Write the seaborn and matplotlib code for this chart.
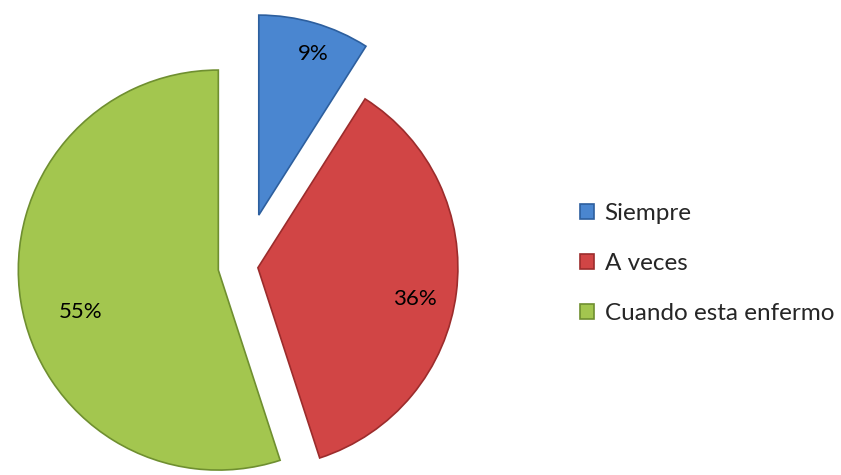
import numpy as np
import matplotlib.pyplot as plt
import seaborn as sns

# Data
labels = ['Siempre', 'A veces', 'Cuando esta enfermo']
values = [9, 36, 55]
colors = ['#4a86d0', '#d14545', '#a3c64f']
edges = ['#2d5f9e', '#9c2c2c', '#6f8f30']
explode = [0.265, 0.07, 0.13]
label_dist = [0.85, 0.8, 0.72]
label_turn = [-2.5, -4, 8]

sns.set_theme(style='white')
plt.rcParams['font.family'] = ['Lato', 'DejaVu Sans']

fig = plt.figure(figsize=(8.41, 4.75), dpi=100)
ax = fig.add_axes([0, 0, 480 / 841, 1])

wedges, texts = ax.pie(values, colors=colors, explode=explode,
                       startangle=90, counterclock=False)
for w, ec, v, d, t in zip(wedges, edges, values, label_dist, label_turn):
    w.set_edgecolor(ec)
    w.set_linewidth(1.2)
    ang = np.deg2rad((w.theta1 + w.theta2) / 2 + t)
    cx, cy = w.center
    ax.text(cx + d * np.cos(ang), cy + d * np.sin(ang), f'{v}%',
            ha='center', va='center', fontsize=16, color='black')

ax.set_xlim(-1.22, 1.18)
ax.set_ylim(-1.045, 1.33)
ax.set_aspect('auto')

ax.legend(wedges, labels, loc='center left', bbox_to_anchor=(0.69, 0.445),
          bbox_transform=fig.transFigure, frameon=False, fontsize=17.5,
          handlelength=0.55, handleheight=0.55, handletextpad=0.45,
          labelspacing=1.2, borderpad=0, borderaxespad=0)

fig.savefig('out.png', dpi=100)
